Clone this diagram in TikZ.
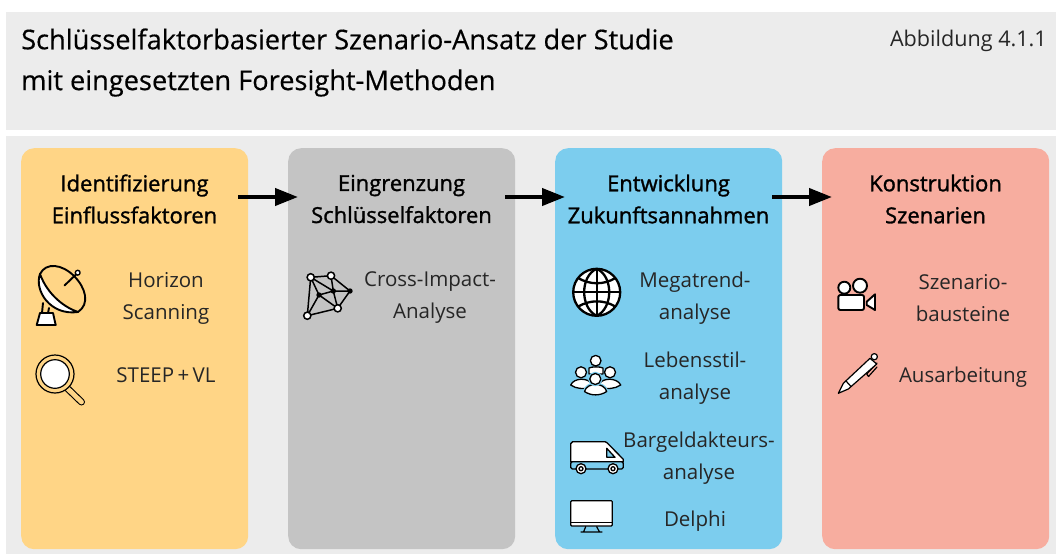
\documentclass[tikz,border=0pt]{standalone}
\usepackage{fontspec}
\setmainfont{Open Sans}
\newfontfamily\semifont[FakeBold=1.3]{Open Sans}
\newfontfamily\titlefont[FakeBold=0.4]{Open Sans}
\usetikzlibrary{arrows.meta}
\definecolor{bandgray}{HTML}{ECECEC}
\definecolor{boxyellow}{HTML}{FFD586}
\definecolor{boxgray}{HTML}{C4C4C4}
\definecolor{boxblue}{HTML}{7CCDEE}
\definecolor{boxred}{HTML}{F7AD9F}
\tikzset{
  stagebox/.style={minimum width=227pt,minimum height=401pt,rounded corners=13pt,anchor=north west,inner sep=0pt},
  headtext/.style={align=center,font=\fontsize{22pt}{32pt}\selectfont\semifont,text width=227pt},
  methodtext/.style={align=center,font=\fontsize{20.5pt}{32pt}\selectfont,text=black!85},
  titletext/.style={anchor=west,font=\fontsize{27.2pt}{30pt}\selectfont\titlefont},
  flowarrow/.style={line width=4pt,-{Triangle[length=23pt,width=17pt]}},
  icon/.style={line width=1.7pt,line join=round,line cap=round},
  halo/.style={preaction={draw=boxblue,line width=3.6pt}},
}
\begin{document}
\begin{tikzpicture}[x=1pt,y=-1pt,every node/.append style={inner sep=0pt}]
\useasboundingbox (0,0) rectangle (1056,554);
\fill[white] (0,0) rectangle (1056,554);
% Bands
\fill[bandgray] (6,12) rectangle (1056,130);
\fill[bandgray] (6,136) rectangle (1056,554);
% Title
\node[titletext] (title1) at (21,39) {Schlüsselfaktorbasierter Szenario-Ansatz der Studie};
\node[titletext] (title2) at (21,83) {mit eingesetzten Foresight-Methoden};
\node[anchor=east,font=\fontsize{21.6pt}{24pt}\selectfont,text=black!85] (figno) at (1047,41) {Abbildung 4.1.1};
% Stages
\node[stagebox,fill=boxyellow] (identify) at (21,148) {};
\node[stagebox,fill=boxgray] (narrow) at (288,148) {};
\node[stagebox,fill=boxblue] (develop) at (555,148) {};
\node[stagebox,fill=boxred] (construct) at (822,148) {};
% Headings
\node[headtext] (identifyhead) at (134.5,199) {Identifizierung\\Einflussfaktoren};
\node[headtext] (narrowhead) at (401.5,199) {Eingrenzung\\Schlüsselfaktoren};
\node[headtext] (develophead) at (668.5,199) {Entwicklung\\Zukunftsannahmen};
\node[headtext] (constructhead) at (935.5,199) {Konstruktion\\Szenarien};
% Arrows
\draw[flowarrow] ([shift={(-10,49)}]identify.north east) -- ([shift={(10,49)}]narrow.north west);
\draw[flowarrow] ([shift={(-10,49)}]narrow.north east) -- ([shift={(10,49)}]develop.north west);
\draw[flowarrow] ([shift={(-10,49)}]develop.north east) -- ([shift={(10,49)}]construct.north west);
% Methods
\node[methodtext] (horizon) at (166,298) {Horizon\\Scanning};
\node[methodtext] (steep) at (166,375) {STEEP\,+\,VL};
\node[methodtext] (cross) at (430,298) {Cross-Impact-\\Analyse};
\node[methodtext] (mega) at (695,298) {Megatrend-\\analyse};
\node[methodtext] (leben) at (695,378) {Lebensstil-\\analyse};
\node[methodtext] (bargeld) at (699,458) {Bargeldakteurs-\\analyse};
\node[methodtext] (delphi) at (695,521) {Delphi};
\node[methodtext] (bau) at (963,298) {Szenario-\\bausteine};
\node[methodtext] (aus) at (963,377) {Ausarbeitung};
% Icon: satellite dish
\begin{scope}[icon,line width=1.9pt]
\draw[fill=white] (36.7,325) -- (40,313) -- (53,313) -- (55.7,325) -- cycle;
\draw (43,303) -- (42,313) (49,308) -- (48,313);
\draw[fill=white] (40,274) .. controls (34,290) and (50,316) .. (78,312) .. controls (66,308) and (48,296) .. (40,274) -- cycle;
\draw (40,274) .. controls (46,262) and (62,264) .. (74,276) .. controls (86,288) and (90,304) .. (78,312);
\draw (64.5,285.5) -- (77,273.5);
\draw[fill=white,line width=1.4pt] (77.7,272.7) circle (2.4);
\end{scope}
% Icon: magnifier
\begin{scope}[icon,line width=1.2pt]
\draw[line width=7pt,black] (66.5,387.5) -- (81.5,402);
\draw[line width=4.8pt,boxyellow] (66.5,387.5) -- (81.5,402);
\draw[fill=boxyellow] (55,374) circle (19);
\draw[fill=white] (55,374) circle (14.3);
\end{scope}
% Icon: network
\begin{scope}[line width=1.5pt]
\coordinate (n1) at (310.7,277.3);
\coordinate (n2) at (331,275.7);
\coordinate (n3) at (350,291);
\coordinate (n4) at (333.3,291);
\coordinate (n5) at (319,295);
\coordinate (n6) at (337.7,308.3);
\coordinate (n7) at (307.3,315.7);
\draw (n1) -- (n2) -- (n3) -- (n6) -- (n7) -- (n1) -- (n5) -- (n7)
      (n1) -- (n4) -- (n2) (n5) -- (n4) -- (n3) (n5) -- (n6) -- (n4);
\foreach \n in {n1,n2,n6,n7} \draw[fill=white] (\n) circle (3.6);
\foreach \n in {n3,n4,n5} \fill (\n) circle (2.7);
\end{scope}
% Icon: globe
\begin{scope}[line width=2.3pt]
\draw[fill=white] (596.7,292.3) circle (23.5);
\draw (596.7,268.8) -- (596.7,315.8) (573.2,292.3) -- (620.2,292.3);
\draw (596.7,268.8) .. controls (580,276) and (580,308) .. (596.7,315.8);
\draw (596.7,268.8) .. controls (613.4,276) and (613.4,308) .. (596.7,315.8);
\draw (578,278) .. controls (590,285) and (604,285) .. (615.4,278);
\draw (578,306.6) .. controls (590,299.6) and (604,299.6) .. (615.4,306.6);
\end{scope}
% Icon: people
\begin{scope}[icon,line width=1.3pt]
\draw[fill=white] (589,374) -- (589,368) .. controls (592,366.5) and (600,366.5) .. (603,368) -- (603,374) -- cycle;
\draw[fill=white] (595.7,360.7) circle (5.3);
\draw[fill=white] (581,372.3) circle (5.5);
\draw[fill=white] (610,372.3) circle (5.5);
\draw[fill=white] (570.7,385) .. controls (574,377.5) and (588,377.5) .. (592,384) -- (590,388) .. controls (584,389) and (576,389) .. (570.7,385) -- cycle;
\draw[fill=white] (599,384) .. controls (603,377.5) and (617,377.5) .. (620.7,385) .. controls (615,389) and (607,389) .. (601,388) -- cycle;
\draw[fill=white,halo] (584.5,391.5) .. controls (587,382) and (604,382) .. (606.7,391.5) .. controls (600,396) and (591,396) .. (584.5,391.5) -- cycle;
\draw[fill=white,halo] (595.3,379) circle (5.5);
\end{scope}
% Icon: van
\begin{scope}[icon,line width=1.3pt]
\draw[fill=white] (570.7,461.7) -- (570.7,443.7) -- (572.7,441.7) -- (605,441.7) -- (607,442.7) -- (623.3,459.3) -- (623.3,461.7) -- cycle;
\draw[fill=boxblue,rounded corners=1.5pt] (570.7,461.7) rectangle (623.3,469);
\draw[fill=boxblue] (606.7,448.3) -- (615,457.3) -- (606.7,457.3) -- cycle;
\draw[fill=white] (581,468.7) circle (5);
\draw (581,468.7) circle (2);
\draw[fill=white] (613,468.7) circle (5);
\draw (613,468.7) circle (2);
\end{scope}
% Icon: monitor
\begin{scope}[icon,line width=1.2pt]
\draw[fill=white,rounded corners=1pt] (570.7,500.7) rectangle (612.3,526);
\draw (570.7,522.7) -- (612.3,522.7);
\draw (585.7,526.7) -- (583.5,532) (596.7,526.7) -- (599.5,532) (581,532) -- (602,532);
\end{scope}
% Icon: camera
\begin{scope}[icon,line width=1.9pt]
\draw[fill=white] (844.3,287.7) circle (6);
\draw[fill=white] (860,285.7) circle (7);
\draw[fill=white,rounded corners=2pt] (838.3,295) rectangle (864,310);
\draw[fill=white] (866.7,301.7) -- (875,294.3) -- (875,310) -- (866.7,305) -- cycle;
\end{scope}
% Icon: pen
\begin{scope}[icon,line width=1.2pt]
\draw (877,363) -- (866.7,374) -- (868.5,376.5) -- (877,367);
\draw[fill=white] (838.3,393.3) -- (843.3,383.3) -- (870,358.3) -- (876.7,364) -- (848.3,389) -- cycle;
\draw (846,381) -- (851,386.5);
\draw[fill=white] (874.3,356.7) circle (3.1);
\end{scope}
\end{tikzpicture}
\end{document}
